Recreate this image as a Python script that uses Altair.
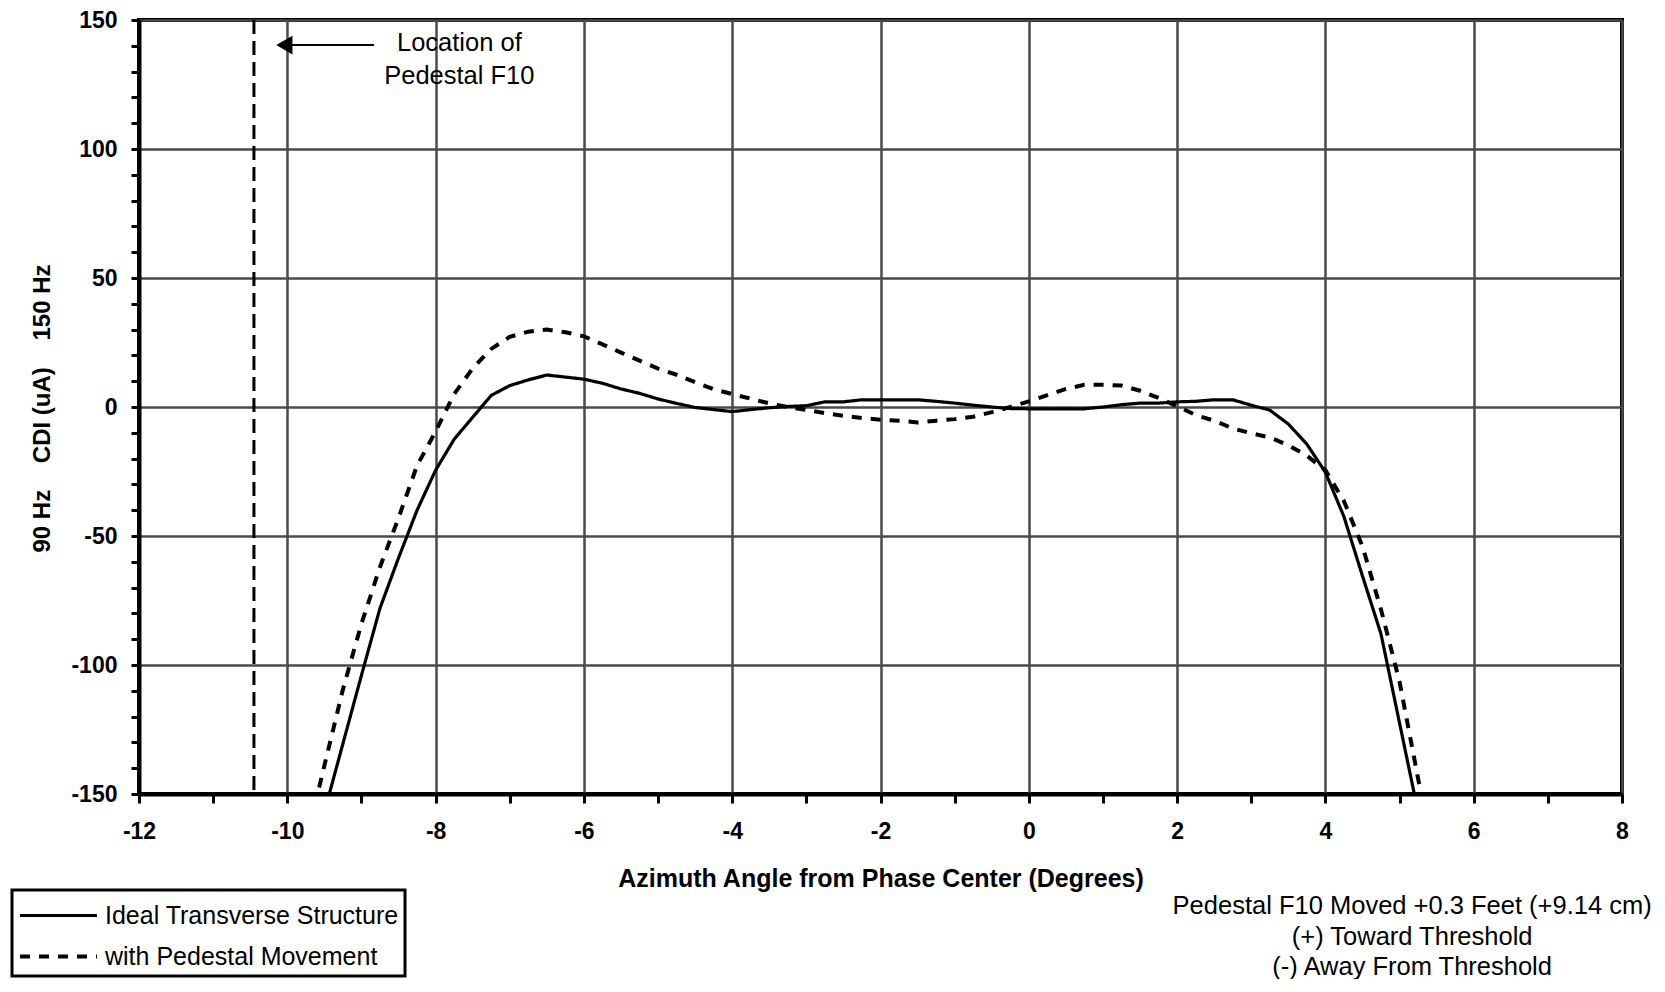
import altair as alt
import pandas as pd

# ---------------- data ----------------
series_names = ["Ideal Transverse Structure", "with Pedestal Movement"]

x_ideal = [-9.5, -9.25, -9.0, -8.75, -8.5, -8.25, -8.0, -7.75, -7.5, -7.25,
           -7.0, -6.75, -6.5, -6.25, -6.0, -5.75, -5.5, -5.25, -5.0, -4.75,
           -4.5, -4.25, -4.0, -3.75, -3.5, -3.25, -3.0, -2.75, -2.5, -2.25,
           -2.0, -1.75, -1.5, -1.25, -1.0, -0.75, -0.5, -0.25, 0.0, 0.25,
           0.5, 0.75, 1.0, 1.25, 1.5, 1.75, 2.0, 2.25, 2.5, 2.75,
           3.0, 3.25, 3.5, 3.75, 4.0, 4.25, 4.5, 4.75, 5.0, 5.25]
cdi_ideal = [-157.0, -130.5, -104.0, -78.0, -58.5, -40.0, -24.5, -12.5, -4.0, 4.5,
             8.3, 10.5, 12.4, 11.6, 10.8, 9.2, 7.0, 5.3, 3.1, 1.4,
             -0.2, -1.0, -1.8, -1.0, -0.3, 0.2, 0.5, 2.0, 2.0, 2.8,
             2.8, 2.8, 2.8, 2.2, 1.5, 0.7, 0.0, -0.6, -0.7, -0.7,
             -0.7, -0.7, 0.0, 0.9, 1.5, 1.5, 2.0, 2.2, 2.8, 2.8,
             0.7, -1.2, -6.6, -14.4, -25.3, -42.5, -65.5, -88.0, -122.5, -157.0]

x_moved = [-9.75, -9.5, -9.25, -9.0, -8.75, -8.5, -8.25, -8.0, -7.75, -7.5,
           -7.25, -7.0, -6.75, -6.5, -6.25, -6.0, -5.75, -5.5, -5.25, -5.0,
           -4.75, -4.5, -4.25, -4.0, -3.75, -3.5, -3.25, -3.0, -2.75, -2.5,
           -2.25, -2.0, -1.75, -1.5, -1.25, -1.0, -0.75, -0.5, -0.25, 0.0,
           0.25, 0.5, 0.75, 1.0, 1.25, 1.5, 1.75, 2.0, 2.25, 2.5,
           2.75, 3.0, 3.25, 3.5, 3.75, 4.0, 4.25, 4.5, 4.75, 5.0,
           5.25, 5.5]
cdi_moved = [-169.0, -139.0, -109.5, -84.0, -62.0, -43.0, -22.7, -9.5, 5.0, 15.0,
             22.5, 27.2, 29.2, 30.0, 29.0, 27.4, 24.3, 21.1, 18.0, 14.9,
             12.5, 9.6, 6.9, 5.0, 3.2, 1.4, 0.0, -1.1, -2.4, -3.4,
             -4.3, -4.9, -5.3, -6.0, -5.3, -4.7, -3.8, -2.0, 0.0, 2.2,
             4.6, 7.0, 8.6, 8.6, 8.3, 6.3, 3.5, 0.3, -3.1, -5.3,
             -8.3, -10.2, -11.8, -14.8, -18.9, -24.5, -36.5, -54.0, -78.5, -106.5,
             -144.0, -180.0]

x_tick_values = [-12, -11, -10, -9, -8, -7, -6, -5, -4, -3, -2, -1, 0,
                 1, 2, 3, 4, 5, 6, 7, 8]
y_tick_values = [-150, -140, -130, -120, -110, -100, -90, -80, -70, -60, -50,
                 -40, -30, -20, -10, 0, 10, 20, 30, 40, 50, 60, 70, 80, 90,
                 100, 110, 120, 130, 140, 150]

pedestal_location = [-10.45]
arrow_x = [-10.04]
arrow_x2 = [-8.83]
arrow_y = [140.3]
location_text = ["Location of", "Pedestal F10"]
location_x = [-7.68, -7.68]
location_y = [141.0, 128.3]
note_text = ["Pedestal F10 Moved +0.3 Feet (+9.14 cm)",
             "(+) Toward Threshold",
             "(-) Away From Threshold"]
note_x = [5.17, 5.17, 5.17]
note_y = [-193.4, -205.4, -217.1]

# ---------------- tables ----------------
df = pd.concat([
    pd.DataFrame({"x": x_ideal, "cdi": cdi_ideal, "series": series_names[0]}),
    pd.DataFrame({"x": x_moved, "cdi": cdi_moved, "series": series_names[1]}),
], ignore_index=True)

FONT = "Liberation Sans"

x_scale = alt.Scale(domain=[-12, 8], nice=False, zero=False)
y_scale = alt.Scale(domain=[-150, 150], nice=False, zero=False)

x_axis = alt.Axis(
    values=x_tick_values, tickCount=100,
    labelExpr="datum.value % 2 === 0 ? '' + datum.value : ''",
    title="Azimuth Angle from Phase Center (Degrees)",
    grid=True,
    gridOpacity={"condition": {"test": "datum.value % 2 === 0", "value": 1}, "value": 0},
    gridColor="#4a4a4a", gridWidth=2.5,
    domainColor="black", domainWidth=4,
    tickColor="black", tickWidth=3, tickSize=9,
    labelFont=FONT, labelFontSize=23, labelFontWeight="bold", labelColor="black",
    labelPadding=17, labelOverlap=False, labelFlush=False, labelBound=False,
    titleFont=FONT, titleFontSize=25, titleFontWeight="bold", titleColor="black",
    titleY=84, titleBaseline="middle",
)

y_axis = alt.Axis(
    values=y_tick_values, tickCount=100,
    labelExpr="datum.value % 50 === 0 ? '' + datum.value : ''",
    title="90 Hz\u00a0\u00a0\u00a0\u00a0CDI (uA)\u00a0\u00a0\u00a0\u00a0150 Hz",
    grid=True,
    gridOpacity={"condition": {"test": "datum.value % 50 === 0", "value": 1}, "value": 0},
    gridColor="#4a4a4a", gridWidth=2.5,
    domainColor="black", domainWidth=4,
    tickColor="black", tickWidth=3, tickSize=8,
    labelFont=FONT, labelFontSize=23, labelFontWeight="bold", labelColor="black",
    labelPadding=14, labelOverlap=False, labelFlush=False, labelBound=False,
    titleFont=FONT, titleFontSize=24, titleFontWeight="bold", titleColor="black",
    titleX=-97, titleY=388, titleAngle=270, titleAlign="center", titleBaseline="middle",
)

lines = alt.Chart(df).mark_line(clip=True, color="black").encode(
    x=alt.X("x:Q", scale=x_scale, axis=x_axis),
    y=alt.Y("cdi:Q", scale=y_scale, axis=y_axis),
    strokeDash=alt.StrokeDash(
        "series:N",
        scale=alt.Scale(domain=series_names, range=[[1, 0], [10, 9]]),
        legend=alt.Legend(
            title=None, orient="none", legendX=-127, legendY=870,
            direction="vertical",
            symbolType="M -1 0 L 3.4 0", symbolSize=1225,
            symbolStrokeWidth=3, symbolStrokeColor="black",
            labelFont=FONT, labelFontSize=25, labelColor="black", labelLimit=600,
            labelOffset=48, padding=6, rowPadding=8,
            strokeColor="black", fillColor="white", cornerRadius=0,
        ),
    ),
    strokeWidth=alt.StrokeWidth(
        "series:N",
        scale=alt.Scale(domain=series_names, range=[3.2, 4]),
        legend=None,
    ),
)

pedestal = alt.Chart(pd.DataFrame({"x": pedestal_location})).mark_rule(
    strokeDash=[14, 7], strokeWidth=3, color="black"
).encode(x=alt.X("x:Q", scale=x_scale))

arrow_line = alt.Chart(pd.DataFrame({"x": arrow_x, "x2": arrow_x2, "y": arrow_y})).mark_rule(
    strokeWidth=2, color="black"
).encode(x=alt.X("x:Q", scale=x_scale), x2="x2:Q", y=alt.Y("y:Q", scale=y_scale))

arrow_head = alt.Chart(pd.DataFrame({"x": arrow_x, "y": arrow_y})).mark_point(
    shape="triangle-left", filled=True, size=350, color="black", opacity=1
).encode(x=alt.X("x:Q", scale=x_scale), y=alt.Y("y:Q", scale=y_scale))

location = alt.Chart(pd.DataFrame({"x": location_x, "y": location_y, "t": location_text})).mark_text(
    font=FONT, fontSize=25.5, color="black", align="center", baseline="middle"
).encode(x=alt.X("x:Q", scale=x_scale), y=alt.Y("y:Q", scale=y_scale), text="t:N")

note = alt.Chart(pd.DataFrame({"x": note_x, "y": note_y, "t": note_text})).mark_text(
    font=FONT, fontSize=25.5, color="black", align="center", baseline="middle", clip=False
).encode(x=alt.X("x:Q", scale=x_scale), y=alt.Y("y:Q", scale=y_scale), text="t:N")

chart = alt.layer(pedestal, lines, arrow_line, arrow_head, location, note).properties(
    width=1483, height=774,
    padding={"left": 131, "top": 12, "right": 35, "bottom": 185},
    autosize=alt.AutoSizeParams(type="none"),
).configure_view(
    stroke="black", strokeWidth=4
).configure_legend(
    strokeWidth=3
)

chart.save("out.html", embed_options={"renderer": "svg", "actions": False})
